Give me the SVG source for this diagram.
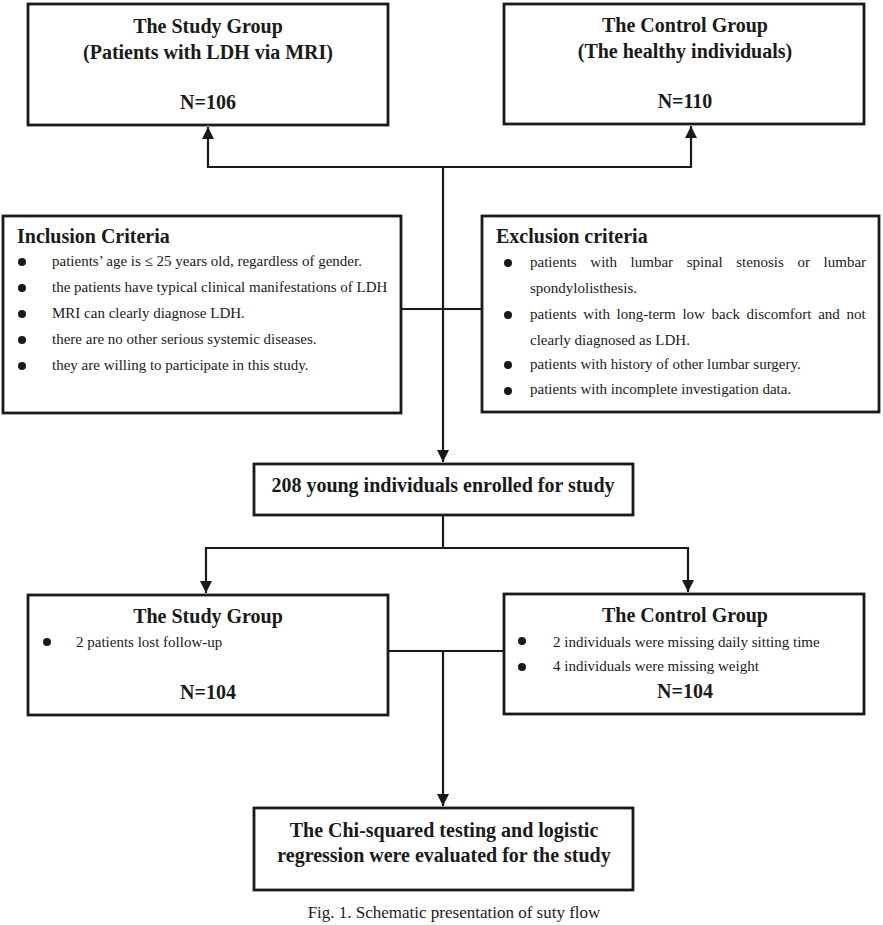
<svg xmlns="http://www.w3.org/2000/svg" width="883" height="925" viewBox="0 0 883 925">
<style>
.box{fill:#fff;stroke:#1a1a1a;stroke-width:2.8}
.ln{fill:none;stroke:#1a1a1a;stroke-width:2.2}
.b{font-family:"Liberation Serif","Times New Roman",serif;font-weight:bold;font-size:20px;fill:#1a1a1a}
.t{font-family:"Liberation Serif","Times New Roman",serif;font-size:15px;fill:#1a1a1a}
.c{text-anchor:middle}
.dot{fill:#1a1a1a}
</style>
<defs>
<marker id="ah" markerUnits="userSpaceOnUse" markerWidth="12" markerHeight="14" viewBox="0 0 12 14" refX="12" refY="6" orient="auto">
<path d="M0,0 L12,6 L0,12 Z" fill="#1a1a1a"/>
</marker>
</defs>
<rect width="883" height="925" fill="#fff"/>
<g id="connectors">
<path class="ln" d="M443,167 V462" marker-end="url(#ah)"/>
<path class="ln" d="M443,167 H208 V127" marker-end="url(#ah)"/>
<path class="ln" d="M443,167 H691 V126" marker-end="url(#ah)"/>
<path class="ln" d="M401,309 H482"/>
<path class="ln" d="M443,515 V548"/>
<path class="ln" d="M443,548 H206 V593" marker-end="url(#ah)"/>
<path class="ln" d="M443,548 H688 V592" marker-end="url(#ah)"/>
<path class="ln" d="M388,651 H504"/>
<path class="ln" d="M443,651 V806" marker-end="url(#ah)"/>
</g>
<g id="study-top">
<rect class="box" x="28" y="4" width="360" height="121"/>
<text class="b c" x="208" y="33">The Study Group</text>
<text class="b c" x="208" y="59">(Patients with LDH via MRI)</text>
<text class="b c" x="208" y="109">N=106</text>
</g>
<g id="control-top">
<rect class="box" x="504" y="4" width="360" height="120"/>
<text class="b c" x="685" y="32">The Control Group</text>
<text class="b c" x="685" y="58">(The healthy individuals)</text>
<text class="b c" x="685" y="108">N=110</text>
</g>
<g id="inclusion">
<rect class="box" x="3" y="216" width="398" height="197"/>
<text class="b" x="17" y="243">Inclusion Criteria</text>
<circle class="dot" cx="22" cy="262" r="4"/>
<circle class="dot" cx="22" cy="288" r="4"/>
<circle class="dot" cx="22" cy="314" r="4"/>
<circle class="dot" cx="22" cy="340" r="4"/>
<circle class="dot" cx="22" cy="366" r="4"/>
<text class="t" x="52" y="266">patients’ age is ≤ 25 years old, regardless of gender.</text>
<text class="t" x="52" y="292">the patients have typical clinical manifestations of LDH</text>
<text class="t" x="52" y="318">MRI can clearly diagnose LDH.</text>
<text class="t" x="52" y="344">there are no other serious systemic diseases.</text>
<text class="t" x="52" y="370">they are willing to participate in this study.</text>
</g>
<g id="exclusion">
<rect class="box" x="482" y="216" width="397" height="196"/>
<text class="b" x="496" y="243">Exclusion criteria</text>
<circle class="dot" cx="508" cy="263" r="4"/>
<circle class="dot" cx="508" cy="315" r="4"/>
<circle class="dot" cx="508" cy="365" r="4"/>
<circle class="dot" cx="508" cy="391" r="4"/>
<text class="t" x="530" y="267" word-spacing="9.9">patients with lumbar spinal stenosis or lumbar</text>
<text class="t" x="530" y="293">spondylolisthesis.</text>
<text class="t" x="530" y="319" word-spacing="2.9">patients with long-term low back discomfort and not</text>
<text class="t" x="530" y="345">clearly diagnosed as LDH.</text>
<text class="t" x="530" y="369">patients with history of other lumbar surgery.</text>
<text class="t" x="530" y="394">patients with incomplete investigation data.</text>
</g>
<g id="enrolled">
<rect class="box" x="254" y="464" width="379" height="51"/>
<text class="b c" x="443" y="492">208 young individuals enrolled for study</text>
</g>
<g id="study-bottom">
<rect class="box" x="28" y="595" width="360" height="120"/>
<text class="b c" x="208" y="623">The Study Group</text>
<circle class="dot" cx="47" cy="642" r="4"/>
<text class="t" x="76" y="647">2 patients lost follow-up</text>
<text class="b c" x="208" y="699">N=104</text>
</g>
<g id="control-bottom">
<rect class="box" x="504" y="594" width="360" height="120"/>
<text class="b c" x="685" y="622">The Control Group</text>
<circle class="dot" cx="522" cy="641" r="4"/>
<circle class="dot" cx="522" cy="667" r="4"/>
<text class="t" x="553" y="647">2 individuals were missing daily sitting time</text>
<text class="t" x="553" y="671">4 individuals were missing weight</text>
<text class="b c" x="685" y="698">N=104</text>
</g>
<g id="analysis">
<rect class="box" x="254" y="808" width="379" height="82"/>
<text class="b c" x="444" y="837">The Chi-squared testing and logistic</text>
<text class="b c" x="444" y="862">regression were evaluated for the study</text>
</g>
<text class="t c" x="454" y="918" style="font-size:17px">Fig. 1. Schematic presentation of suty flow</text>
</svg>
